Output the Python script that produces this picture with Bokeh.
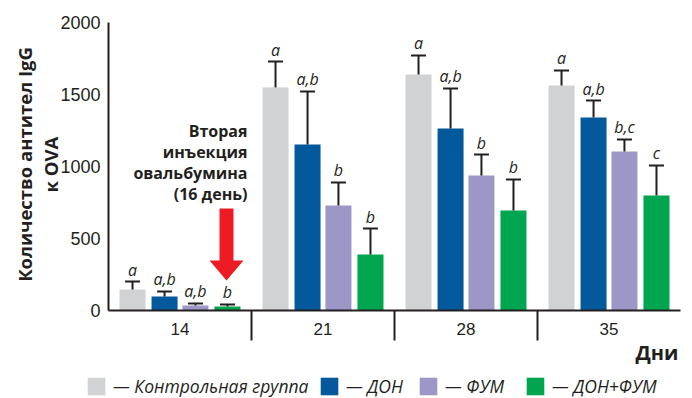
import math
from bokeh.plotting import figure
from bokeh.models import (ColumnDataSource, Range1d, FixedTicker, Whisker, TeeHead,
                          Label, Legend, LegendItem)
from bokeh.core.properties import value
from bokeh.embed import file_html
from bokeh.resources import INLINE

# ---------------- data ----------------
days = ["14", "21", "28", "35"]
series_names = ["Контрольная группа", "ДОН", "ФУМ", "ДОН+ФУМ"]

control = [146, 1548, 1639, 1562]
don = [97, 1153, 1264, 1340]
fum = [35, 729, 938, 1104]
don_fum = [28, 389, 694, 799]

control_se = [55, 181, 132, 105]
don_se = [35, 368, 278, 118]
fum_se = [14, 160, 145, 84]
don_fum_se = [14, 180, 216, 208]

control_letters = ["a", "a", "a", "a"]
don_letters = ["a,b", "a,b", "a,b", "a,b"]
fum_letters = ["a,b", "b", "b", "b,c"]
don_fum_letters = ["b", "b", "b", "c"]

y_ticks = [0, 500, 1000, 1500, 2000]
y_max = 2000

# ---------------- style / layout ----------------
colors = ["#d1d2d4", "#03599c", "#9c97c7", "#00a54f"]
ink = "#231f20"
offsets = [-0.332, -0.108, 0.108, 0.332]
bar_w = 0.182
W, H = 692, 398
left_px, right_px, top_px, bottom_px = 108, 12, 22, 88
ppx = (W - left_px - right_px) / len(days)         # pixels per group
ppy = (H - top_px - bottom_px) / y_max              # pixels per unit
px2x = lambda px: (px - left_px) / ppx              # canvas px -> data x
px2y = lambda py: (H - bottom_px - py) / ppy        # canvas px -> data y

p = figure(width=W, height=H, output_backend="svg", toolbar_location=None,
           x_range=Range1d(px2x(0), px2x(W)), y_range=Range1d(px2y(H), px2y(0)),
           min_border=0, min_border_left=0, min_border_right=0,
           min_border_top=0, min_border_bottom=0)
p.outline_line_color = None
p.grid.visible = False
p.background_fill_color = "white"

all_vals = [control, don, fum, don_fum]
all_se = [control_se, don_se, fum_se, don_fum_se]
all_letters = [control_letters, don_letters, fum_letters, don_fum_letters]

renderers = []
for k in range(4):
    xs = [i + 0.5 + offsets[k] for i in range(len(days))]
    upper = [v + e for v, e in zip(all_vals[k], all_se[k])]
    src = ColumnDataSource(dict(x=xs, top=all_vals[k], upper=upper, letter=all_letters[k]))
    r = p.vbar(x="x", top="top", bottom=0, width=bar_w, source=src,
               fill_color=colors[k], line_color=None)
    renderers.append(r)
    w = Whisker(source=src, base="x", upper="upper", lower="top",
                upper_head=TeeHead(size=15, line_width=2, line_color=ink),
                lower_head=None, line_width=2, line_color=ink, level="overlay")
    p.add_layout(w)
    p.text(x="x", y="upper", text="letter", source=src, y_offset=-1,
           text_align="center", text_baseline="bottom",
           text_font=value("Open Sans"), text_font_style="italic",
           text_font_size="16px", text_color=ink)

# group separators below the axis
seps = list(range(1, len(days)))
p.segment(x0=seps, x1=seps, y0=[0] * len(seps), y1=[-30 / ppy] * len(seps),
          line_color=ink, line_width=2)

# ---------------- axes ----------------
xa = p.xaxis[0]
xa.fixed_location = 0
xa.bounds = (0, len(days))
xa.ticker = FixedTicker(ticks=[i + 0.5 for i in range(len(days))])
xa.major_label_overrides = {i + 0.5: d for i, d in enumerate(days)}
xa.major_tick_line_color = None
xa.minor_tick_line_color = None
xa.major_tick_out = 0
xa.major_tick_in = 0
xa.axis_line_width = 2
xa.axis_line_color = ink
xa.major_label_standoff = 12
xa.major_label_text_font = "Liberation Sans"
xa.major_label_text_font_size = "17px"
xa.major_label_text_color = ink

ya = p.yaxis[0]
ya.fixed_location = 0
ya.bounds = (0, y_max)
ya.ticker = FixedTicker(ticks=y_ticks)
ya.major_tick_line_color = None
ya.minor_tick_line_color = None
ya.major_tick_out = 0
ya.major_tick_in = 0
ya.axis_line_width = 2
ya.axis_line_color = ink
ya.major_label_standoff = 8
ya.major_label_text_font = "Liberation Sans"
ya.major_label_text_font_size = "18px"
ya.major_label_text_color = ink

# y axis title (two lines, rotated)
for t, cx in [("Количество антител IgG", 24), ("к OVA", 50)]:
    p.add_layout(Label(x=px2x(cx), y=px2y(164), text=t, angle=math.pi / 2,
                       text_align="center", text_baseline="middle",
                       text_font="Open Sans", text_font_style="bold",
                       text_font_size="18.5px", text_color=ink))

# x axis title
p.add_layout(Label(x=len(days), y=px2y(352), x_offset=-2, text="Дни",
                   text_align="right", text_baseline="middle",
                   text_font="Open Sans", text_font_style="bold",
                   text_font_size="20px", text_color=ink))

# ---------------- annotation ----------------
note_lines = ["Вторая", "инъекция", "овальбумина", "(16 день)"]
for j, t in enumerate(note_lines):
    p.add_layout(Label(x=px2x(247), y=px2y(130 + j * 21.3), text=t,
                       text_align="right", text_baseline="middle",
                       text_font="Open Sans", text_font_style="bold",
                       text_font_size="16px", text_color=ink))

ax = px2x(226)
sx, hx = px2x(233) - ax, px2x(243) - ax
p.patch(x=[ax - sx, ax + sx, ax + sx, ax + hx, ax, ax - hx, ax - sx],
        y=[px2y(208), px2y(208), px2y(260), px2y(260), px2y(280), px2y(260), px2y(260)],
        fill_color="#ed1c24", line_color=None)

# ---------------- legend (one entry per group position) ----------------
legend_left_px = [85, 318, 417, 524]
for n, r, lx in zip(series_names, renderers, legend_left_px):
    lg = Legend(items=[LegendItem(label="— " + n, renderers=[r])],
                location=(lx, 0), orientation="horizontal",
                glyph_width=22, glyph_height=22, label_standoff=6, spacing=0,
                padding=0, margin=0, border_line_color=None,
                background_fill_alpha=0, label_text_font="Open Sans",
                label_text_font_style="italic", label_text_font_size="17.5px",
                label_text_color=ink, label_height=22)
    p.add_layout(lg)

open("out.html", "w").write(file_html(p, INLINE))
